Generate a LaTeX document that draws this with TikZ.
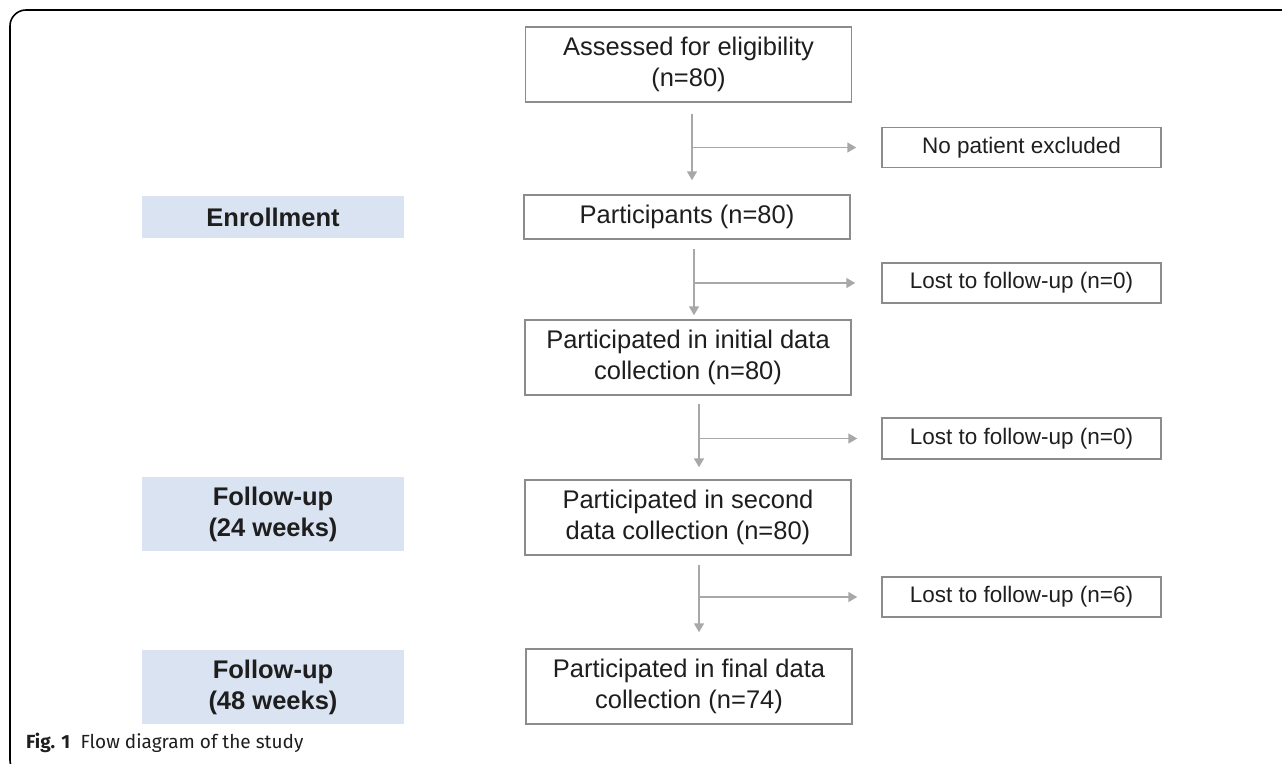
\documentclass[tikz,border=0pt]{standalone}
\usepackage{fontspec}
\setmainfont{Liberation Sans}
\newfontfamily\capfont{Fira Sans}
\usetikzlibrary{arrows.meta}

\definecolor{boxline}{HTML}{8C8C8C}
\definecolor{flowline}{HTML}{A8A8A8}
\definecolor{stagefill}{HTML}{DAE3F1}
\definecolor{ink}{HTML}{1E1E1E}

\begin{document}
\begin{tikzpicture}[x=1pt,y=-1pt,>={Triangle[length=9pt,width=10pt]},
  main box/.style={draw=boxline,line width=1.5pt,inner sep=0pt,minimum width=326pt,
    align=center,text=ink,font=\fontsize{25.5}{31}\selectfont},
  side box/.style={draw=boxline,line width=1.5pt,inner sep=0pt,minimum width=279pt,
    minimum height=40pt,text=ink,font=\fontsize{22.5}{27}\selectfont},
  stage/.style={fill=stagefill,inner sep=0pt,minimum width=262pt,align=center,
    text=ink,font=\bfseries\fontsize{25.5}{31}\selectfont},
  flow/.style={->,draw=flowline,line width=1.6pt}]
  \useasboundingbox (0,0) rectangle (1282,763);
  \clip (0,0) rectangle (1282,763);
  % frame
  \draw[line width=1.6pt,rounded corners=16pt] (1300,10) -- (10,10) -- (10,776) -- (40,776);

  % main column
  \node[main box,minimum height=75pt] (assess) at (688.5,64.5) {Assessed for eligibility\\(n=80)};
  \node[main box,minimum height=44pt] (part) at (687,217) {Participants (n=80)};
  \node[main box,minimum height=75pt] (init) at (688,357.5) {Participated in initial data\\collection (n=80)};
  \node[main box,minimum height=75pt] (second) at (688,517.5) {Participated in second\\data collection (n=80)};
  \node[main box,minimum height=75pt] (final) at (689,686.5) {Participated in final data\\collection (n=74)};

  % exclusions
  \node[side box] (excl) at (1021.5,147.5) {No patient excluded};
  \node[side box] (lost1) at (1021.5,283) {Lost to follow-up (n=0)};
  \node[side box,minimum height=41pt] (lost2) at (1021.5,438.5) {Lost to follow-up (n=0)};
  \node[side box] (lost3) at (1021.5,597) {Lost to follow-up (n=6)};

  % stages
  \node[stage,minimum height=42pt] (enrol) at (273,217) {Enrollment};
  \node[stage,minimum height=74pt] (fu24) at (273,514) {Follow-up\\(24 weeks)};
  \node[stage,minimum height=74pt] (fu48) at (273,687) {Follow-up\\(48 weeks)};

  % arrows
  \coordinate (s1) at ([xshift=3.5pt,yshift=-11pt]assess.south);
  \coordinate (s2) at ([xshift=7pt,yshift=-9pt]part.south);
  \coordinate (s3) at ([xshift=11pt,yshift=-8pt]init.south);
  \coordinate (s4) at ([xshift=11pt,yshift=-9pt]second.south);
  \draw[flow,shorten >=14pt] (s1) -- (s1 |- part.north);
  \draw[flow,shorten >=25pt] (s1 |- excl.west) -- (excl.west);
  \draw[flow,shorten >=4pt] (s2) -- (s2 |- init.north);
  \draw[flow,shorten >=26pt] (s2 |- lost1.west) -- (lost1.west);
  \draw[flow,shorten >=12pt] (s3) -- (s3 |- second.north);
  \draw[flow,shorten >=24pt] (s3 |- lost2.west) -- (lost2.west);
  \draw[flow,shorten >=16pt] (s4) -- (s4 |- final.north);
  \draw[flow,shorten >=24pt] (s4 |- lost3.west) -- (lost3.west);

  % caption
  \node[anchor=west,inner sep=0pt,text=ink,font=\capfont\fontsize{19}{23}\selectfont] (cap) at (26,743)
    {\textbf{Fig. 1}\hspace{0.55em}Flow diagram of the study};
\end{tikzpicture}
\end{document}
